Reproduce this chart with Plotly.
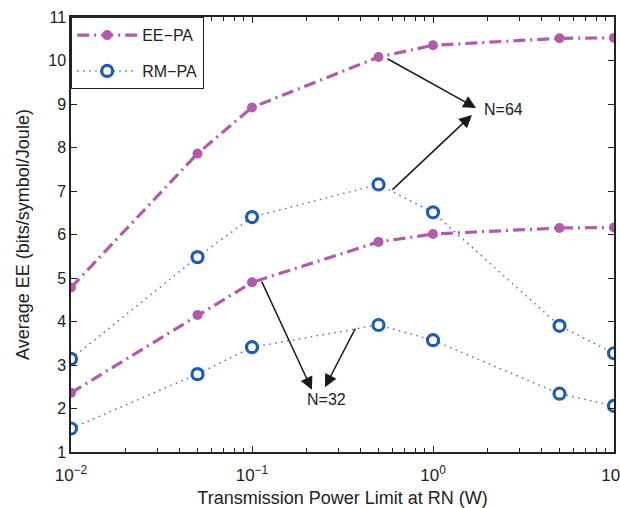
import plotly.graph_objects as go

x_power = [0.01, 0.05, 0.1, 0.5, 1, 5, 10]
ee_pa_n64 = [4.78, 7.86, 8.92, 10.08, 10.35, 10.51, 10.52]
rm_pa_n64 = [3.14, 5.48, 6.40, 7.15, 6.51, 3.90, 3.27]
ee_pa_n32 = [2.36, 4.15, 4.90, 5.83, 6.01, 6.15, 6.16]
rm_pa_n32 = [1.54, 2.79, 3.41, 3.92, 3.57, 2.34, 2.06]

x_tickvals = [0.01, 0.1, 1, 10]
x_ticktext = ["10<sup>\u22122</sup>", "10<sup>\u22121</sup>", "10<sup>0</sup>", "10<sup>1</sup>"]
x_minorvals = [m * d for d in (0.01, 0.1, 1) for m in range(2, 10)]

PINK = "#B15BA9"
BLUE = "#1E5CAD"
BLUE_LINE = "#3C79C6"

fig = go.Figure()

def ee_trace(y, show):
    return go.Scatter(x=x_power, y=y, mode="lines+markers", name="EE\u2212PA",
                      showlegend=show, legendgroup="ee",
                      line=dict(color=PINK, width=3.2, dash="12px,5px,2px,5px"),
                      marker=dict(color=PINK, size=10, symbol="circle"))

def rm_trace(y, show):
    return go.Scatter(x=x_power, y=y, mode="lines+markers", name="RM\u2212PA",
                      showlegend=show, legendgroup="rm",
                      line=dict(color=BLUE_LINE, width=1.5, dash="1.5px,4.5px"),
                      marker=dict(color="white", size=11, symbol="circle",
                                  line=dict(color=BLUE, width=3.2)))

fig.add_trace(ee_trace(ee_pa_n64, True))
fig.add_trace(rm_trace(rm_pa_n64, True))
fig.add_trace(ee_trace(ee_pa_n32, False))
fig.add_trace(rm_trace(rm_pa_n32, False))

arrows = [
    # (tail_xlog, tail_y, head_xlog, head_y)
    (-0.260, 10.06, 0.238, 8.91),
    (-0.232, 7.00, 0.215, 8.75),
    (-0.950, 4.95, -0.669, 2.43),
    (-0.425, 3.87, -0.597, 2.49),
]
for tx, ty, hx, hy in arrows:
    fig.add_annotation(x=hx, y=hy, ax=tx, ay=ty, xref="x", yref="y",
                       axref="x", ayref="y", text="", showarrow=True,
                       arrowhead=2, arrowsize=1.7, arrowwidth=1.5,
                       arrowcolor="#1a1a1a", standoff=0, startstandoff=0)

fig.add_annotation(x=0.271, y=8.88, xref="x", yref="y", text="N=64",
                   showarrow=False, xanchor="left",
                   font=dict(size=16, color="#222"))
fig.add_annotation(x=-0.586, y=2.2, xref="x", yref="y", text="N=32",
                   showarrow=False, xanchor="center",
                   font=dict(size=16, color="#222"))

axis_common = dict(showline=True, linecolor="#222", linewidth=1.5, mirror="ticks",
                   ticks="inside", ticklen=6, tickcolor="#222", tickwidth=1,
                   showgrid=False, zeroline=False, automargin=False)

fig.update_xaxes(type="log", range=[-2, 1], tickmode="array",
                 tickvals=x_tickvals, ticktext=x_ticktext,
                 ticklabeloverflow="allow", ticklabelstandoff=7,
                 tickfont=dict(size=17, color="#222"),
                 title=dict(text="Transmission Power Limit at RN (W)",
                            font=dict(size=18, color="#222"), standoff=8),
                 minor=dict(tickmode="array", tickvals=x_minorvals, ticks="inside",
                            ticklen=4, tickcolor="#222", showgrid=False),
                 **axis_common)
fig.update_yaxes(range=[1, 11], dtick=1,
                 tickfont=dict(size=16, color="#222"),
                 title=dict(text="Average EE (bits/symbol/Joule)",
                            font=dict(size=18, color="#222"), standoff=14),
                 **axis_common)

fig.update_layout(
    width=620, height=508,
    margin=dict(l=71, r=6, t=17, b=56),
    paper_bgcolor="white", plot_bgcolor="white",
    font=dict(family="Liberation Sans, Arial, sans-serif", color="#222"),
    legend=dict(x=0, y=1, xanchor="left", yanchor="top",
                bordercolor="#222", borderwidth=1.2, bgcolor="white",
                font=dict(size=16, color="#222"), itemwidth=60,
                tracegroupgap=12),
)

fig.write_html("out.html")
